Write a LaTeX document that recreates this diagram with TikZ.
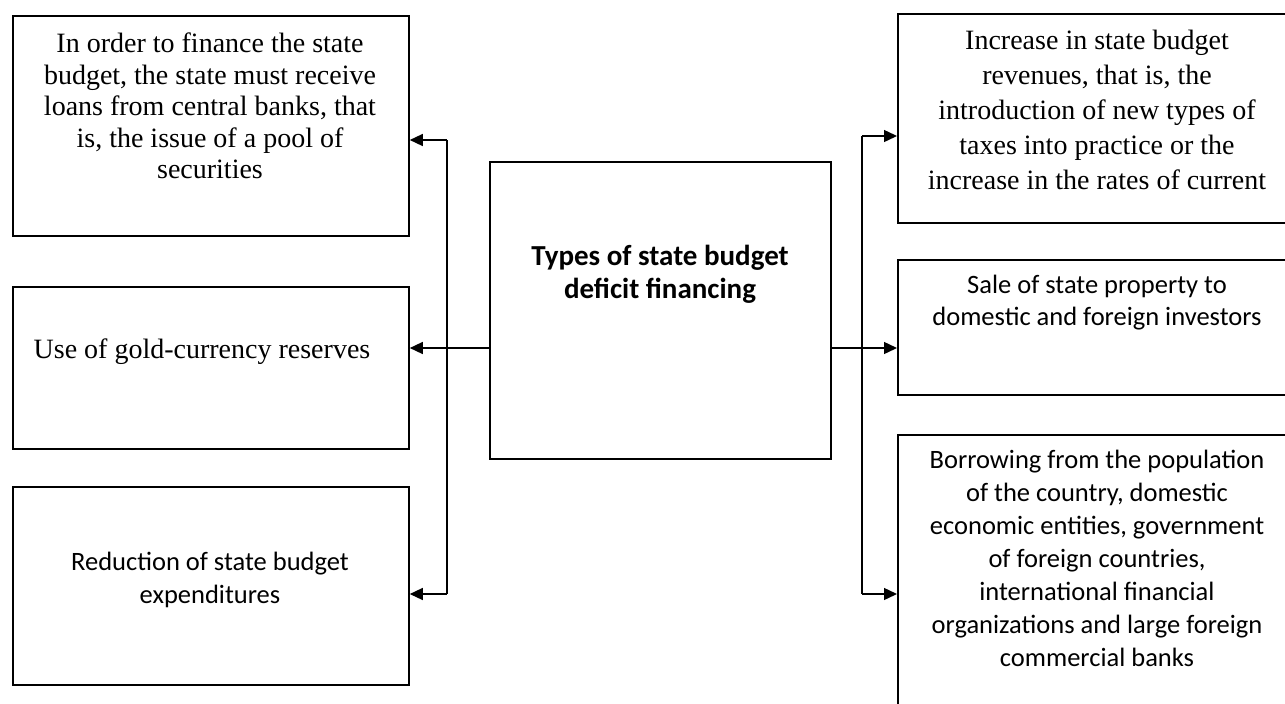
\documentclass[tikz,border=0pt]{standalone}
\usepackage{fontspec}
\setmainfont{Liberation Serif}
\newfontfamily\calibri{Carlito}
\usetikzlibrary{arrows.meta}

\begin{document}
\begin{tikzpicture}[x=1pt, y=-1pt,
	box/.style={draw, line width=1.8pt, inner sep=0pt, anchor=north west},
	serif/.style={align=center, inner sep=0pt, anchor=north, font=\fontsize{28}{31.5}\selectfont},
	sans/.style={align=center, inner sep=0pt, anchor=north, font=\calibri\fontsize{26.5}{33}\selectfont},
	bus/.style={line width=1.4pt},
	arr/.style={-{Triangle[length=13pt, width=12pt]}, line width=1.4pt}]
\useasboundingbox (0,0) rectangle (1285,704);
\clip (0,0) rectangle (1285,704);
% boxes
\node[box, minimum width=396pt, minimum height=220pt] (loans) at (12,15) {};
\node[box, minimum width=396pt, minimum height=162pt] (gold) at (12,286) {};
\node[box, minimum width=396pt, minimum height=198pt] (reduce) at (12,486) {};
\node[box, minimum width=341pt, minimum height=297pt] (types) at (489,161) {};
\node[box, minimum width=600pt, minimum height=209pt] (revenue) at (897,13) {};
\node[box, minimum width=600pt, minimum height=135pt] (sale) at (897,259) {};
\node[box, minimum width=600pt, minimum height=400pt] (borrow) at (897,434) {};
% texts
\node[serif] (loans text) at (210,33) {In order to finance the state\\budget, the state must receive\\loans from central banks, that\\is, the issue of a pool of\\securities};
\node[serif] (gold text) at (202,339) {Use of gold-currency reserves};
\node[sans] (reduce text) at (210,552) {Reduction of state budget\\expenditures};
\node[sans, font=\calibri\bfseries\fontsize{29}{33}\selectfont] (types text) at (660,245) {Types of state budget\\deficit financing};
\node[serif, font=\fontsize{28}{35}\selectfont] (revenue text) at (1097,30) {Increase in state budget\\revenues, that is, the\\introduction of new types of\\taxes into practice or the\\increase in the rates of current};
\node[sans, font=\calibri\fontsize{26.5}{32}\selectfont] (sale text) at (1097,275) {Sale of state property to\\domestic and foreign investors};
\node[sans] (borrow text) at (1097,450) {Borrowing from the population\\of the country, domestic\\economic entities, government\\of foreign countries,\\international financial\\organizations and large foreign\\commercial banks};
% connectors
\coordinate (ltop) at (447,140);
\coordinate (lmid) at (447,348);
\coordinate (lbot) at (447,594);
\coordinate (rtop) at (862,136);
\coordinate (rmid) at (862,348);
\coordinate (rbot) at (862,594);
\draw[bus] (ltop) -- (lbot);
\draw[bus] (rtop) -- (rbot);
\draw[arr] (ltop) -- (ltop -| loans.east);
\draw[arr] (lmid -| types.west) -- (lmid -| gold.east);
\draw[arr] (lbot) -- (lbot -| reduce.east);
\draw[arr] (rtop) -- (rtop -| revenue.west);
\draw[arr] (rmid -| types.east) -- (rmid -| sale.west);
\draw[arr] (rbot) -- (rbot -| borrow.west);
\end{tikzpicture}
\end{document}
